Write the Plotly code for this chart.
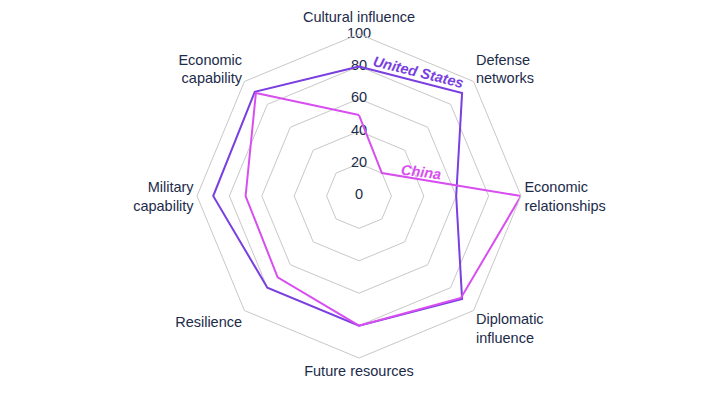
import plotly.graph_objects as go

categories = ["Cultural influence", "Defense networks", "Economic relationships",
              "Diplomatic influence", "Future resources", "Resilience",
              "Military capability", "Economic capability"]
category_labels = ["", "Defense<br>networks", "Economic<br>relationships",
                   "Diplomatic<br>influence", "Future resources", "Resilience",
                   "Military<br>capability", "Economic<br>capability"]
top_label = "Cultural influence"
us_values = [80, 90, 60, 90, 80, 80, 90, 91]
china_values = [50, 20, 100, 89, 80, 71, 70, 90]
radial_ticks = [0, 20, 40, 60, 80, 100]

US_COLOR = "#7a3fe0"
CN_COLOR = "#d84ef0"
TEXT = "#1c2b4a"
FS = 14.5

fig = go.Figure()
# radial tick labels, centred on the vertical axis
# (a point exactly at the centre is culled by plotly's polygon test, so nudge it by 0.5)
fig.add_trace(go.Scatterpolar(r=[max(v, 0.5) for v in radial_ticks],
                              theta=[categories[0]] * len(radial_ticks),
                              mode="text", text=[str(v) for v in radial_ticks],
                              textposition="middle center",
                              textfont=dict(size=FS, color=TEXT),
                              showlegend=False, hoverinfo="skip"))
fig.add_trace(go.Scatterpolar(r=us_values + us_values[:1], theta=categories + categories[:1],
                              mode="lines", line=dict(color=US_COLOR, width=2),
                              name="United States", showlegend=False))
fig.add_trace(go.Scatterpolar(r=china_values + china_values[:1], theta=categories + categories[:1],
                              mode="lines", line=dict(color=CN_COLOR, width=2),
                              name="China", showlegend=False))

OFF = 8  # page body margin
fig.update_layout(
    width=720, height=393,
    margin=dict(l=0, r=0, t=0, b=0),
    paper_bgcolor="white", plot_bgcolor="white",
    font=dict(family="Liberation Sans, Arial, sans-serif", color=TEXT, size=FS),
    polar=dict(
        domain=dict(x=[0, 0.975], y=[0.1094, 0.9338]),
        bgcolor="white",
        gridshape="linear",
        angularaxis=dict(direction="clockwise", rotation=90, showgrid=False,
                         showline=True, linecolor="#c8c8c8", linewidth=1,
                         tickvals=categories, ticktext=category_labels,
                         ticks="", tickfont=dict(size=FS, color=TEXT)),
        radialaxis=dict(range=[0, 100], tickvals=radial_ticks[1:], angle=90,
                        showticklabels=False, showline=False, ticks="",
                        showgrid=True, gridcolor="#c8c8c8", gridwidth=1),
    ),
    annotations=[
        dict(text=top_label, x=(359 - OFF) / 720, y=1 - (17 - OFF) / 393,
             xref="paper", yref="paper", xanchor="center", yanchor="middle",
             showarrow=False, font=dict(size=FS, color=TEXT)),
        dict(text="<b><i>United States</i></b>", x=(418 - OFF) / 720, y=1 - (72 - OFF) / 393,
             xref="paper", yref="paper", xanchor="center", yanchor="middle",
             showarrow=False, textangle=14,
             font=dict(size=FS, color=US_COLOR)),
        dict(text="<b><i>China</i></b>", x=(421 - OFF) / 720, y=1 - (172 - OFF) / 393,
             xref="paper", yref="paper", xanchor="center", yanchor="middle",
             showarrow=False, textangle=7,
             font=dict(size=FS, color=CN_COLOR)),
    ],
)

fig.write_html("out.html")
